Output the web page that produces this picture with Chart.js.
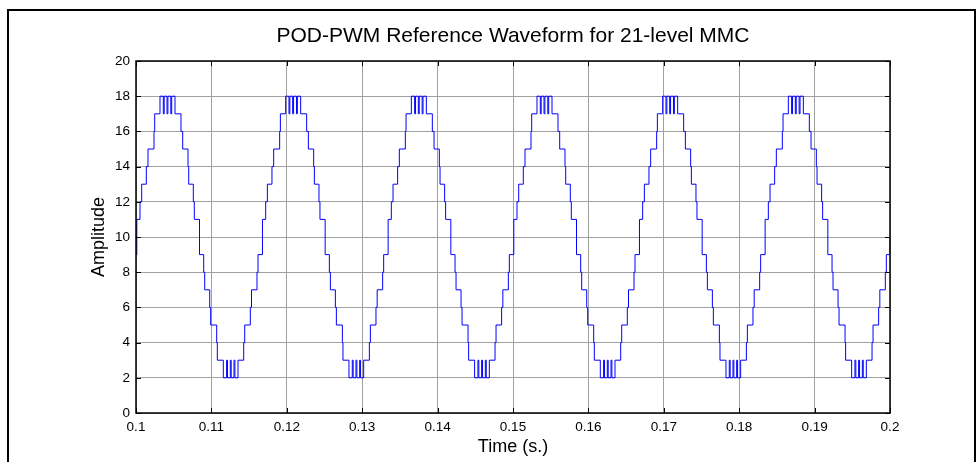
<!DOCTYPE html>
<html><head><meta charset="utf-8">
<script src="https://cdn.jsdelivr.net/npm/chart.js@4.4.0/dist/chart.umd.min.js"></script>
<style>html,body{margin:0;padding:0;background:#fff;}#wrap{width:980px;height:462px;position:relative;}</style>
</head><body>
<div id="wrap"><canvas id="c" width="980" height="462"></canvas></div>
<script>
const chartTitle = 'POD-PWM Reference Waveform for 21-level MMC';
const xAxisTitle = 'Time (s.)';
const yAxisTitle = 'Amplitude';
const xTickValues = [0.1, 0.11, 0.12, 0.13, 0.14, 0.15, 0.16, 0.17, 0.18, 0.19, 0.2];
const xTickLabels = ['0.1', '0.11', '0.12', '0.13', '0.14', '0.15', '0.16', '0.17', '0.18', '0.19', '0.2'];
const yTickValues = [0, 2, 4, 6, 8, 10, 12, 14, 16, 18, 20];
const yTickLabels = ['0', '2', '4', '6', '8', '10', '12', '14', '16', '18', '20'];
// start time of each visible cycle (rising zero crossing)
const cycleStarts = [0.1, 0.1166667, 0.1333333, 0.15, 0.1666667, 0.1833333];
// time of each level change inside one cycle (s, after cycle start) and the level reached
const stepOffsets = [0.000106, 0.000531, 0.000756, 0.001366, 0.001592, 0.002387, 0.002480, 0.003183,
  0.003621, 0.003740, 0.004112, 0.004231, 0.004616, 0.004735, 0.005173,
  0.005968, 0.006194, 0.006897, 0.006990, 0.007600, 0.007732, 0.008422,
  0.008979, 0.009112, 0.009775, 0.009907, 0.010703, 0.010783, 0.011579,
  0.012016, 0.012135, 0.012507, 0.012626, 0.012998, 0.013117, 0.013528,
  0.014284, 0.014417, 0.015160, 0.015319, 0.016048, 0.016181];
const stepLevels = [11, 12, 13, 14, 15, 16, 17, 18,
  17, 18, 17, 18, 17, 18, 17,
  16, 15, 14, 13, 12, 11, 9,
  8, 7, 6, 5, 4, 3, 2,
  3, 2, 3, 2, 3, 2, 3,
  4, 5, 6, 7, 8, 9];
const startLevel = 9;
const endLevel = 10;

const xMin = xTickValues[0], xMax = xTickValues[xTickValues.length - 1];
const points = [{x: xMin, y: startLevel}];
cycleStarts.forEach(c => stepOffsets.forEach((o, i) => points.push({x: c + o, y: stepLevels[i]})));
points.push({x: xMax, y: endLevel});

const FONT = "'Liberation Sans', Arial, Helvetica, sans-serif";

const boxPlugin = {
  id: 'boxPlugin',
  afterDatasetsDraw(chart) {
    const {ctx, chartArea: a, scales: {x, y}} = chart;
    ctx.save();
    ctx.strokeStyle = '#000';
    ctx.lineWidth = 1;
    ctx.beginPath();
    xTickValues.forEach(v => {
      const px = Math.round(x.getPixelForValue(v)) + 0.5;
      ctx.moveTo(px, a.bottom); ctx.lineTo(px, a.bottom - 5);
      ctx.moveTo(px, a.top); ctx.lineTo(px, a.top + 5);
    });
    yTickValues.forEach(v => {
      const py = Math.round(y.getPixelForValue(v)) + 0.5;
      ctx.moveTo(a.left, py); ctx.lineTo(a.left + 5, py);
      ctx.moveTo(a.right, py); ctx.lineTo(a.right - 5, py);
    });
    ctx.stroke();
    ctx.lineWidth = 1.5;
    ctx.strokeRect(a.left, a.top, a.right - a.left, a.bottom - a.top);
    ctx.restore();
  },
  afterDraw(chart) {
    const ctx = chart.ctx;
    ctx.save();
    ctx.strokeStyle = '#000';
    ctx.lineWidth = 2;
    ctx.strokeRect(8, 10, 967, 500);
    ctx.restore();
  }
};

new Chart(document.getElementById('c'), {
  type: 'line',
  data: {
    datasets: [{
      data: points,
      borderColor: '#0000ff',
      borderWidth: 1,
      pointRadius: 0,
      stepped: 'before',
      fill: false,
      tension: 0
    }]
  },
  options: {
    responsive: false,
    animation: false,
    devicePixelRatio: 1,
    layout: {padding: {left: 0, right: 90, top: 0, bottom: 0}},
    plugins: {
      legend: {display: false},
      tooltip: {enabled: false},
      title: {
        display: true,
        fullSize: false,
        text: chartTitle,
        color: '#000',
        font: {family: FONT, size: 21, weight: 'normal'},
        padding: {top: 23.4, bottom: 12.4}
      }
    },
    scales: {
      x: {
        type: 'linear',
        min: xMin,
        max: xMax,
        afterFit: s => { s.height = 49; },
        afterBuildTicks: s => { s.ticks = xTickValues.map(v => ({value: v})); },
        ticks: {
          autoSkip: false, maxRotation: 0, color: '#000', padding: 6,
          font: {family: FONT, size: 13.5},
          callback: (v, i) => xTickLabels[i]
        },
        grid: {color: '#a0a0a0', lineWidth: 1, drawTicks: false},
        border: {display: false},
        title: {display: true, text: xAxisTitle, color: '#000', font: {family: FONT, size: 18}, padding: {top: 0, bottom: 4}}
      },
      y: {
        type: 'linear',
        min: 0,
        max: 20,
        afterFit: s => { s.width = 136; },
        afterBuildTicks: s => { s.ticks = yTickValues.map(v => ({value: v})); },
        ticks: {
          autoSkip: false, color: '#000', padding: 6,
          font: {family: FONT, size: 13.5},
          callback: (v, i) => yTickLabels[i]
        },
        grid: {color: '#a0a0a0', lineWidth: 1, drawTicks: false},
        border: {display: false},
        title: {display: true, text: yAxisTitle, color: '#000', font: {family: FONT, size: 18}, padding: {top: 88, bottom: 0}}
      }
    }
  },
  plugins: [boxPlugin]
});
</script>
</body></html>
